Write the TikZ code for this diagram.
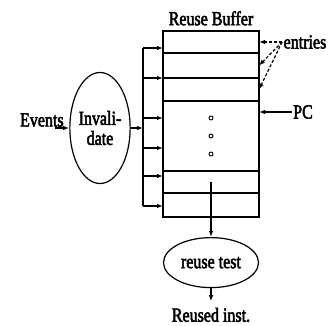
\documentclass[tikz,border=0pt]{standalone}
\usepackage{fontspec}
\setmainfont{Liberation Serif}[FakeStretch=0.8, FakeBold=2.5]
\usetikzlibrary{arrows.meta,positioning,shapes.geometric}

\begin{document}
\begin{tikzpicture}[
  x=1pt, y=-1pt,
  line width=1.2pt,
  font=\fontsize{20}{20}\selectfont,
  entry/.style={draw, minimum width=96pt, inner sep=0pt, outer sep=0pt},
  oval/.style={draw, ellipse, inner sep=0pt, align=center},
  lbl/.style={inner sep=1pt},
  arrow/.style={-{Latex[length=6pt,width=4.5pt]}},
  dashline/.style={dash pattern=on 3pt off 2pt}
]
\useasboundingbox (0,0) rectangle (328,325);

% Buffer -- a stack of entries
\node[entry, minimum height=22pt] (e1) at (211,42) {};
\node[entry, minimum height=25pt, below=0pt of e1] (e2) {};
\node[entry, minimum height=23pt, below=0pt of e2] (e3) {};
\node[entry, minimum height=70pt, below=0pt of e3] (mid) {};
\node[entry, minimum height=22pt, below=0pt of mid] (e4) {};
\node[entry, minimum height=24pt, below=0pt of e4] (e5) {};
\node[lbl, above=4pt of e1] (title) {Reuse Buffer};
\foreach \d in {-18,0,18}
  \draw[line width=0.9pt] ([yshift=\d pt]mid.center) circle (2pt);

% Invalidate and the bus
\node[oval, minimum width=57pt, minimum height=111pt] (inv) at (100,128) {Invali-\\date};
\node[lbl, left=4pt of inv, yshift=8pt] (ev) {Events};
\coordinate (bt) at (143,48);
\coordinate (bb) at (143,206);

\draw[arrow] ([xshift=-14pt]inv.west) -- (inv.west);
\draw (bt) -- (bb);
\draw[arrow] (inv.east) -- (inv.east -| bt);
\foreach \y in {48,78,118,148,176,206}
  \draw[arrow] (bt |- 0,\y) -- (e1.west |- 0,\y);

% Labels on the right
\node[lbl] (ent) at (305,42) {entries};
\node[lbl] (pc) at (303,112) {PC};
\draw[arrow, dashline] (ent.west) -- (e1.east);
\draw[arrow, dashline] (ent.west) -- (e2.east);
\draw[arrow, dashline] (ent.west) -- (e3.east);
\draw[arrow] (pc.west) -- (pc.west -| e1.east);

% Reuse test
\node[oval, minimum width=95pt, minimum height=50pt, below=20pt of e5] (rt) {reuse test};
\node[lbl, below=18pt of rt] (out) {Reused inst.};
\draw[arrow] (e4.center) -- (rt.north);
\draw[arrow] (rt.south) -- ([yshift=5pt]out.north);

\end{tikzpicture}
\end{document}
